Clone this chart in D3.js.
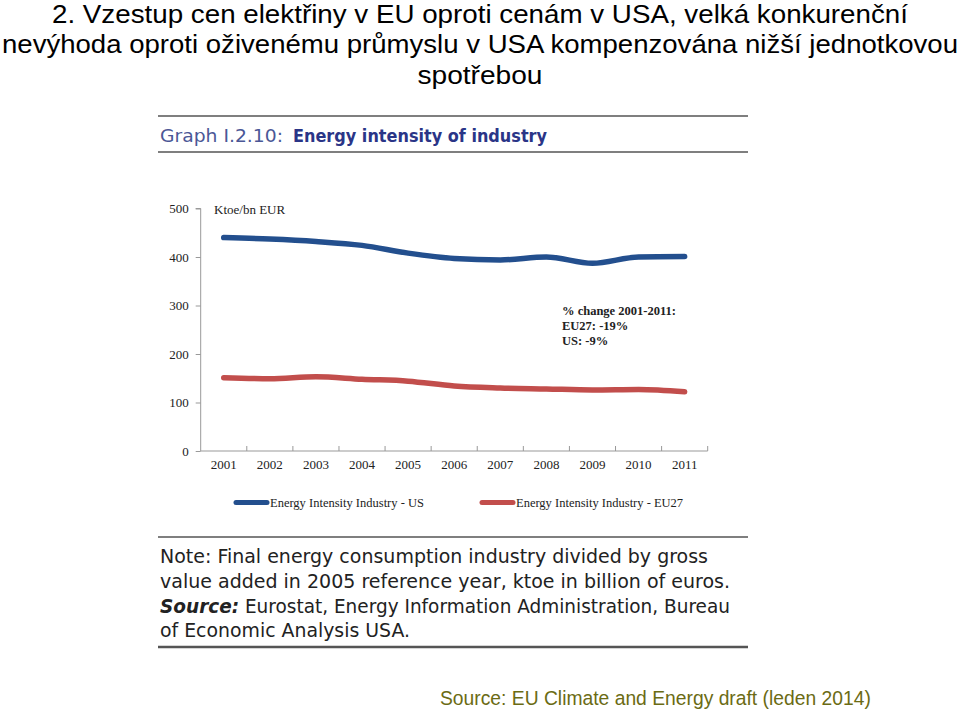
<!DOCTYPE html>
<html><head><meta charset="utf-8">
<script src="https://cdn.jsdelivr.net/npm/d3@7"></script>
<style>body{margin:0;background:#fff;} svg{display:block;}</style>
</head><body>
<svg id="c" width="960" height="710"></svg>
<script>
const years = ["2001","2002","2003","2004","2005","2006","2007","2008","2009","2010","2011"];
const usValues = [440, 437, 432, 424, 408, 397, 394, 400, 387, 400, 401];
const euValues = [151, 149, 153, 148, 144, 134, 130, 128, 126, 127, 122];
const yTicks = [0, 100, 200, 300, 400, 500];
const seriesNames = ["Energy Intensity Industry - US", "Energy Intensity Industry - EU27"];
const seriesColors = ["#234f8e", "#c24e4c"];
const titleLines = ["2. Vzestup cen elektřiny v EU oproti cenám v USA, velká konkurenční",
  "nevýhoda oproti oživenému průmyslu v USA kompenzována nižší jednotkovou", "spotřebou"];
const annotation = ["% change 2001-2011:", "EU27: -19%", "US: -9%"];

const svg = d3.select("#c");

// Slide title
const titleWidths = [856, 956, 125];
const titleY = [23, 53, 84];
svg.append("g").selectAll("text").data(titleLines).join("text")
  .attr("x", 480).attr("y", (d,i)=>titleY[i])
  .attr("text-anchor","middle")
  .attr("font-family","Liberation Sans, Arial, sans-serif")
  .attr("font-size", 26.5).attr("fill","#000")
  .attr("textLength",(d,i)=>titleWidths[i]).attr("lengthAdjust","spacingAndGlyphs")
  .text(d=>d);

// Graph header
const bx0 = 158, bx1 = 748;
svg.append("line").attr("x1",bx0).attr("x2",bx1).attr("y1",116).attr("y2",116).attr("stroke","#555").attr("stroke-width",1.5);
svg.append("line").attr("x1",bx0).attr("x2",bx1).attr("y1",152).attr("y2",152).attr("stroke","#555").attr("stroke-width",1.5);
svg.append("text").attr("x",160).attr("y",142)
  .attr("font-family","DejaVu Sans, sans-serif").attr("font-size",18.5).attr("fill","#4b5796")
  .attr("textLength",123).attr("lengthAdjust","spacingAndGlyphs").text("Graph I.2.10:");
svg.append("text").attr("x",293).attr("y",142)
  .attr("font-family","DejaVu Sans, sans-serif").attr("font-size",18.5).attr("fill","#2a3587").attr("font-weight","bold")
  .attr("textLength",254).attr("lengthAdjust","spacingAndGlyphs").text("Energy intensity of industry");

// Chart
const x = d3.scaleBand().domain(years).range([200.7, 707.7]);
const y = d3.scaleLinear().domain([0,500]).range([451, 208.5]);

const serif = "Liberation Serif, Times New Roman, serif";

const yAxis = svg.append("g").attr("transform","translate(200.7,0)")
  .call(d3.axisLeft(y).tickValues(yTicks).tickSize(5).tickPadding(7));
yAxis.select(".domain").attr("stroke","#999").attr("d","M-5,208.5H0V451");
yAxis.selectAll(".tick line").attr("stroke","#999");
yAxis.selectAll("text").attr("font-family",serif).attr("font-size",13).attr("fill","#222");

const xAxis = svg.append("g").attr("transform","translate(0,451)");
xAxis.append("line").attr("x1",200.7).attr("x2",707.7).attr("stroke","#999");
xAxis.selectAll(".tk").data(years.slice(1).concat(["end"])).join("line")
  .attr("x1",(d,i)=>200.7 + x.step()*(i+1)).attr("x2",(d,i)=>200.7 + x.step()*(i+1))
  .attr("y1",0).attr("y2",-5).attr("stroke","#999");
xAxis.selectAll("text").data(years).join("text")
  .attr("x",d=>x(d)+x.bandwidth()/2).attr("y",18)
  .attr("text-anchor","middle").attr("font-family",serif).attr("font-size",13).attr("fill","#222").text(d=>d);

svg.append("text").attr("x",214).attr("y",214).attr("font-family",serif).attr("font-size",13).attr("fill","#222").text("Ktoe/bn EUR");

const line = d3.line().x((d,i)=>x(years[i])+x.bandwidth()/2).y(d=>y(d)).curve(d3.curveMonotoneX);
[usValues, euValues].forEach((vals,k)=>{
  svg.append("path").attr("d",line(vals)).attr("fill","none")
    .attr("stroke",seriesColors[k]).attr("stroke-width",5.5).attr("stroke-linecap","round").attr("stroke-linejoin","round");
});

svg.append("g").selectAll("text").data(annotation).join("text")
  .attr("x",562).attr("y",(d,i)=>315 + i*15)
  .attr("font-family",serif).attr("font-size",12.5).attr("font-weight","bold").attr("fill","#222").text(d=>d);

// Legend
const leg = svg.append("g");
const legX = [234, 480];
seriesNames.forEach((n,k)=>{
  leg.append("line").attr("x1",legX[k]+2).attr("x2",legX[k]+33).attr("y1",502.5).attr("y2",502.5)
    .attr("stroke",seriesColors[k]).attr("stroke-width",5).attr("stroke-linecap","round");
  leg.append("text").attr("x",legX[k]+36).attr("y",507).attr("font-family",serif).attr("font-size",12.5).attr("fill","#222").text(n);
});

// Note box
svg.append("line").attr("x1",bx0).attr("x2",bx1).attr("y1",537).attr("y2",537).attr("stroke","#555").attr("stroke-width",1.5);
svg.append("line").attr("x1",bx0).attr("x2",bx1).attr("y1",647).attr("y2",647).attr("stroke","#555").attr("stroke-width",2.5);
const noteFont = "DejaVu Sans, sans-serif";
const notes = [
  [{t:"Note: Final energy consumption industry divided by gross"}],
  [{t:"value added in 2005 reference year, ktoe in billion of euros."}],
  [{t:"Source:", b:true},{t:" Eurostat, Energy Information Administration, Bureau"}],
  [{t:"of Economic Analysis USA."}]
];
const noteWidths = [548, 570, 570, 250];
notes.forEach((ln,i)=>{
  const tx = svg.append("text").attr("x",160).attr("y",563 + i*24.8)
    .attr("font-family",noteFont).attr("font-size",19).attr("fill","#222")
    .attr("textLength",noteWidths[i]).attr("lengthAdjust","spacingAndGlyphs");
  ln.forEach(s=>{
    const sp = tx.append("tspan").text(s.t);
    if(s.b) sp.attr("font-weight","bold").attr("font-style","italic");
  });
});

// Footer
svg.append("text").attr("x",440).attr("y",705).attr("font-family","Liberation Sans, Arial, sans-serif")
  .attr("font-size",19.3).attr("fill","#6b6b14").text("Source: EU Climate and Energy draft (leden 2014)");
</script>
</body></html>
